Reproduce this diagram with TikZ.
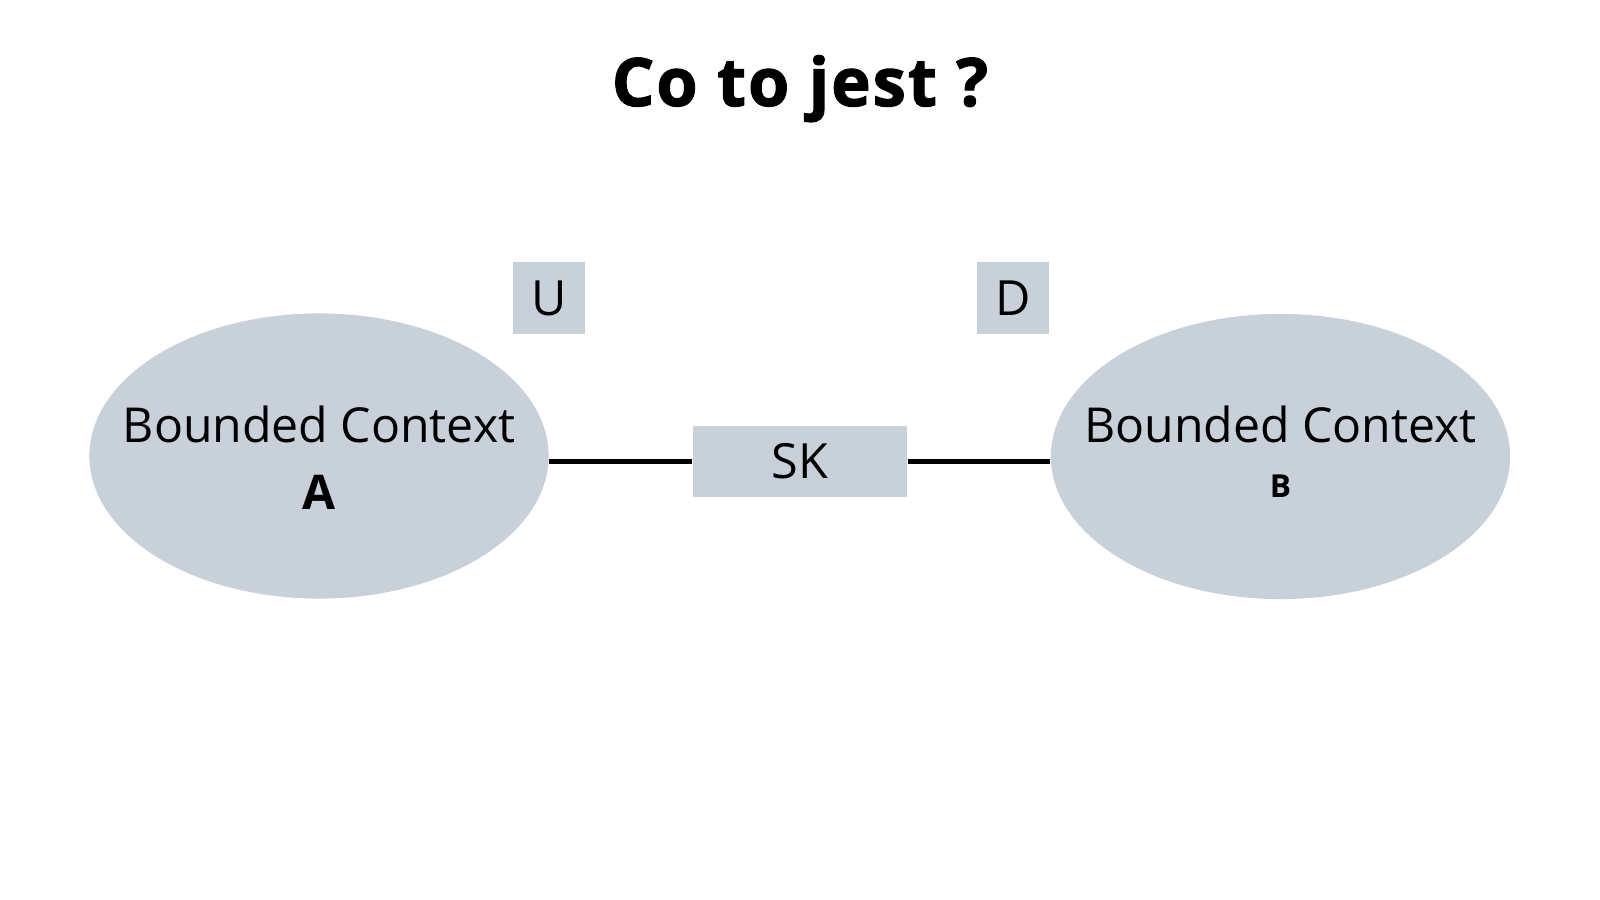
\documentclass[tikz,border=0pt]{standalone}
\usepackage{fontspec}
\setmainfont{Open Sans}
\newfontfamily\headfont{Open Sans}[BoldFeatures={FakeBold=1.6,LetterSpace=3}]
\usetikzlibrary{shapes.geometric,calc}
\definecolor{ctxgray}{HTML}{C8D0D9}

\begin{document}
\begin{tikzpicture}[x=0.01cm,y=-0.01cm]
	\tikzset{
		context/.style={ellipse,fill=ctxgray,inner sep=0pt,minimum width=4.59cm,minimum height=2.85cm},
		tag/.style={rectangle,fill=ctxgray,inner sep=0pt,minimum width=0.72cm,minimum height=0.72cm,font=\fontsize{13.8}{16}\selectfont},
		link/.style={draw=black,line width=1.15pt}
	}
	\useasboundingbox (0,0) rectangle (1600,900);
	\node[anchor=base,font=\fontsize{19}{22}\selectfont\headfont\bfseries] (title) at (800,106) {Co to jest ?};
	\node[context] (ctxA) at (319,456) {};
	\node[context] (ctxB) at (1280.5,456.5) {};
	\node[anchor=base,font=\fontsize{13.7}{16}\selectfont] (ctxA-name) at (319,442.7) {Bounded Context};
	\node[anchor=base,font=\fontsize{13.6}{16}\selectfont\bfseries] (ctxA-letter) at (319,509) {A};
	\node[anchor=base,font=\fontsize{13.7}{16}\selectfont] (ctxB-name) at (1280.5,442.7) {Bounded Context};
	\node[anchor=base,font=\fontsize{9}{11}\selectfont\bfseries] (ctxB-letter) at (1280.5,497) {B};
	\node[tag] (up) at (549,298) {U};
	\node[tag] (down) at (1013,298) {D};
	\node[tag,minimum width=2.14cm,minimum height=0.71cm] (sk) at (800,461.5) {SK};
	\draw[link] (sk.west) -- (sk.west -| ctxA.east);
	\draw[link] (sk.east) -- (sk.east -| ctxB.west);
\end{tikzpicture}
\end{document}
